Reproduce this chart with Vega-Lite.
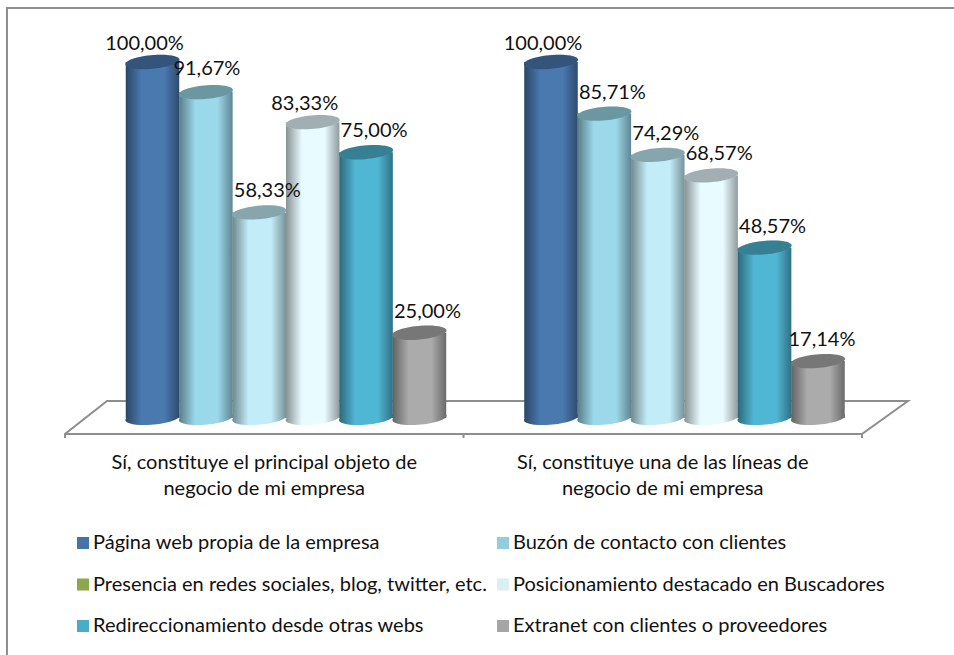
{
"$schema":"https://vega.github.io/schema/vega-lite/v6.json",
"width":797,"height":372,
"autosize":{"type":"none"},
"padding":{"left":65,"top":62,"right":92,"bottom":221},
"background":"white",
"config":{"view":{"stroke":null},"text":{"font":"Lato"},"font":"Lato"},
"datasets":{
"bars":[
{"g":"Sí, constituye  el principal objeto de negocio de mi empresa","s":"Página web propia de la empresa","v":100},
{"g":"Sí, constituye  el principal objeto de negocio de mi empresa","s":"Buzón de contacto con clientes","v":91.67},
{"g":"Sí, constituye  el principal objeto de negocio de mi empresa","s":"Presencia en redes sociales, blog, twitter, etc.","v":58.33},
{"g":"Sí, constituye  el principal objeto de negocio de mi empresa","s":"Posicionamiento destacado en Buscadores","v":83.33},
{"g":"Sí, constituye  el principal objeto de negocio de mi empresa","s":"Redireccionamiento desde otras webs","v":75},
{"g":"Sí, constituye  el principal objeto de negocio de mi empresa","s":"Extranet con clientes o proveedores","v":25},
{"g":"Sí, constituye una de las líneas de negocio de mi empresa","s":"Página web propia de la empresa","v":100},
{"g":"Sí, constituye una de las líneas de negocio de mi empresa","s":"Buzón de contacto con clientes","v":85.71},
{"g":"Sí, constituye una de las líneas de negocio de mi empresa","s":"Presencia en redes sociales, blog, twitter, etc.","v":74.29},
{"g":"Sí, constituye una de las líneas de negocio de mi empresa","s":"Posicionamiento destacado en Buscadores","v":68.57},
{"g":"Sí, constituye una de las líneas de negocio de mi empresa","s":"Redireccionamiento desde otras webs","v":48.57},
{"g":"Sí, constituye una de las líneas de negocio de mi empresa","s":"Extranet con clientes o proveedores","v":17.14}
],
"frame":[
{"p":"marco","o":1,"a":-7.28,"b":-64.3},
{"p":"marco","o":2,"a":-7.28,"b":114.96},
{"p":"marco","o":3,"a":111.67,"b":114.96},
{"p":"suelo","o":1,"a":0,"b":-4.16},
{"p":"suelo","o":2,"a":0,"b":-3.05},
{"p":"suelo","o":3,"a":5.27,"b":6.09},
{"p":"suelo","o":4,"a":105.77,"b":6.09},
{"p":"suelo","o":5,"a":100,"b":-3.05},
{"p":"suelo","o":6,"a":100,"b":-4.16},
{"p":"suelo","o":7,"a":100,"b":-3.05},
{"p":"suelo","o":8,"a":50,"b":-3.05},
{"p":"suelo","o":9,"a":50,"b":-4.16},
{"p":"suelo","o":10,"a":50,"b":-3.05},
{"p":"suelo","o":11,"a":0,"b":-3.05}
]
},
"resolve":{"scale":{"x":"independent","color":"independent"}},
"layer":[
{"data":{"name":"frame"},
 "mark":{"type":"line","color":"#8e8e8e","strokeWidth":2,"clip":false},
 "encoding":{
  "x":{"field":"a","type":"quantitative","axis":null,"scale":{"domain":[0,100],"nice":false,"zero":false}},
  "y":{"field":"b","type":"quantitative","axis":null,"scale":{"domain":[-3.05,100],"nice":false}},
  "detail":{"field":"p"},
  "order":{"field":"o"}
 }},
{"data":{"name":"bars"},
 "mark":{"type":"point","filled":true,"shape":"square"},
 "encoding":{
  "size":{"value":0},
  "color":{"field":"s","type":"nominal",
   "scale":{"domain":["Página web propia de la empresa","Buzón de contacto con clientes","Presencia en redes sociales, blog, twitter, etc.","Posicionamiento destacado en Buscadores","Redireccionamiento desde otras webs","Extranet con clientes o proveedores"],
    "range":["#4572a7","#93cddd","#8aa84b","#daeef3","#4bacc6","#a5a5a5"]},
   "legend":{"orient":"none","direction":"horizontal","legendX":8,"legendY":469,"columns":2,"title":null,"symbolType":"square","symbolSize":144,"symbolOpacity":1,"symbolStrokeWidth":0,"labelFont":"Lato","labelFontSize":20,"labelColor":"#111111","labelLimit":450,"rowPadding":17.5,"columnPadding":6,"labelOffset":0,"symbolOffset":0,"clipHeight":24}}
 }},
{"data":{"name":"bars"},
 "transform":[{"calculate":"replace(format(datum.v,'.2f'),'.',',')+'%'","as":"etiqueta"}],
 "encoding":{
  "x":{"field":"g","type":"nominal","sort":null,
   "scale":{"paddingInner":0,"paddingOuter":0},
   "axis":{"title":null,"domain":false,"ticks":false,"labelAngle":0,"labelFont":"Lato","labelFontSize":20,"labelColor":"#111111","labelLimit":500,"labelLineHeight":26,"labelPadding":18,"labelExpr":"split(replace(datum.label,' negocio','|negocio'),'|')"}},
  "xOffset":{"field":"s","type":"nominal","sort":null,
   "scale":{"domain":["Página web propia de la empresa","Buzón de contacto con clientes","Presencia en redes sociales, blog, twitter, etc.","Posicionamiento destacado en Buscadores","Redireccionamiento desde otras webs","Extranet con clientes o proveedores"],"range":[60.8,381.2],"paddingInner":0,"paddingOuter":0}}
 },
 "layer":[
  {"transform":[{"calculate":"1.4","as":"base"}],
   "mark":{"type":"point","filled":true,"opacity":1,"size":2916,"shape":"M-1,0.07 A1,0.25 -5 1,0 1,-0.07 A1,0.25 -5 1,0 -1,0.07 Z"},
   "encoding":{
    "y":{"field":"base","type":"quantitative","axis":null,"scale":{"domain":[-3.05,100],"nice":false}},
    "color":{"field":"s","type":"nominal","legend":null,
     "scale":{"domain":["Página web propia de la empresa","Buzón de contacto con clientes","Presencia en redes sociales, blog, twitter, etc.","Posicionamiento destacado en Buscadores","Redireccionamiento desde otras webs","Extranet con clientes o proveedores"],
      "range":["#4a79b0","#9ad8ea","#c2ecf7","#e8fbff","#4fb6d3","#ababab"]}}
   }},
  {"transform":[{"calculate":"1.4","as":"base"}],
   "mark":{"type":"point","filled":true,"opacity":1,"size":2916,"shape":"M-1,0.07 A1,0.25 -5 1,0 1,-0.07 A1,0.25 -5 1,0 -1,0.07 Z",
    "fill":{"gradient":"linear","x1":0,"x2":1,"y1":0,"y2":0,"stops":[{"offset":0,"color":"rgba(0,0,0,0.42)"},{"offset":0.3,"color":"rgba(0,0,0,0)"},{"offset":0.72,"color":"rgba(0,0,0,0)"},{"offset":1,"color":"rgba(0,0,0,0.38)"}]}},
   "encoding":{"y":{"field":"base","type":"quantitative"}}},
  {"mark":{"type":"bar","cornerRadius":0},
   "encoding":{
    "y":{"field":"v","type":"quantitative"},
    "y2":{"datum":1.4},
    "color":{"field":"s","type":"nominal","legend":null}
   }},
  {"mark":{"type":"bar",
    "fill":{"gradient":"linear","x1":0,"x2":1,"y1":0,"y2":0,"stops":[{"offset":0,"color":"rgba(0,0,0,0.42)"},{"offset":0.3,"color":"rgba(0,0,0,0)"},{"offset":0.72,"color":"rgba(0,0,0,0)"},{"offset":1,"color":"rgba(0,0,0,0.38)"}]}},
   "encoding":{"y":{"field":"v","type":"quantitative"},"y2":{"datum":1.4}}},
  {"mark":{"type":"point","filled":true,"opacity":1,"size":2916,"shape":"M-1,0.07 A1,0.25 -5 1,0 1,-0.07 A1,0.25 -5 1,0 -1,0.07 Z"},
   "encoding":{"y":{"field":"v","type":"quantitative"},"color":{"field":"s","type":"nominal","legend":null}}},
  {"mark":{"type":"point","filled":true,"size":2916,"shape":"M-1,0.07 A1,0.25 -5 1,0 1,-0.07 A1,0.25 -5 1,0 -1,0.07 Z","fill":"#000000","opacity":0.3},
   "encoding":{"y":{"field":"v","type":"quantitative"}}},
  {"transform":[{"filter":"datum.v==100||datum.v==83.33"}],
   "mark":{"type":"text","font":"Lato","fontSize":20,"color":"#111111","dx":-8,"dy":-18},
   "encoding":{"y":{"field":"v","type":"quantitative"},"text":{"field":"etiqueta","type":"nominal"}}},
  {"transform":[{"filter":"datum.v==91.67"}],
   "mark":{"type":"text","font":"Lato","fontSize":20,"color":"#111111","dx":1,"dy":-23},
   "encoding":{"y":{"field":"v","type":"quantitative"},"text":{"field":"etiqueta","type":"nominal"}}},
  {"transform":[{"filter":"datum.v==17.14"}],
   "mark":{"type":"text","font":"Lato","fontSize":20,"color":"#111111","dx":4,"dy":-21},
   "encoding":{"y":{"field":"v","type":"quantitative"},"text":{"field":"etiqueta","type":"nominal"}}},
  {"transform":[{"filter":"datum.v!=100&&datum.v!=83.33&&datum.v!=91.67&&datum.v!=17.14"}],
   "mark":{"type":"text","font":"Lato","fontSize":20,"color":"#111111","dx":8,"dy":-21},
   "encoding":{"y":{"field":"v","type":"quantitative"},"text":{"field":"etiqueta","type":"nominal"}}}
 ]}
]
}
